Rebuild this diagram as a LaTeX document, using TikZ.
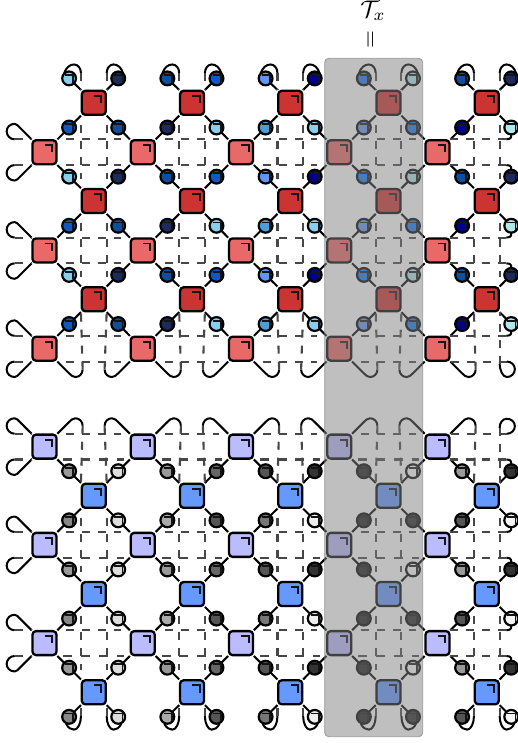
\documentclass[tikz,border=0pt]{standalone}
\usetikzlibrary{calc}
\pgfdeclarelayer{wires}
\pgfdeclarelayer{cover}
\pgfsetlayers{wires,main,cover}
\definecolor{dred}{HTML}{CC3333}
\definecolor{lred}{HTML}{E96868}
\definecolor{lblu}{HTML}{BBBBFF}
\definecolor{mblu}{HTML}{6699FF}
\definecolor{bA}{HTML}{87CEF0}
\definecolor{bB}{HTML}{1C2A5E}
\definecolor{bC}{HTML}{0F4F9E}
\definecolor{bD}{HTML}{1058C4}
\definecolor{bE}{HTML}{6495F0}
\definecolor{bF}{HTML}{00008B}
\definecolor{bG}{HTML}{1478F0}
\definecolor{bH}{HTML}{B0E8EC}
\definecolor{bI}{HTML}{4A9FD8}
\tikzset{
  x=1pt,y=-1pt,
  sqnode/.style={draw=black,line width=2.3pt,rounded corners=3.5pt,minimum size=24pt,inner sep=0pt,outer sep=.85pt},
  tensor/.style={draw=black,line width=2.2pt,circle,minimum size=13.8pt,inner sep=0pt,outer sep=0pt},
  wire/.style={draw=black,line width=2pt,line join=round},
  bond/.style={draw=black!72,line width=2.1pt,dash pattern=on 8pt off 8pt},
  innerbond/.style={bond,shorten <=9pt,shorten >=9pt},
  tightbond/.style={draw=black!72,line width=2.1pt,dash pattern=on 8.9pt off 8.9pt,shorten <=6pt,shorten >=6pt},
  tick/.style={draw=black!92,line width=1.9pt},
}
% square with its corner mark
\newcommand\sqr[4]{\node[sqnode,fill=#1] (#2) at (#3,#4) {};
  \draw[tick] ([shift={(0.3,-7)}]#2.center) -- ([shift={(7.6,-7)}]#2.center) -- ([shift={(7.6,0.3)}]#2.center);}
% circle with its corner mark
\newcommand\ten[4]{\node[tensor,fill=#1] (#2) at (#3,#4) {};
  \draw[tick] ([shift={(-3.8,-3.3)}]#2.center) -- ([shift={(4.3,-3.3)}]#2.center) -- ([shift={(4.3,4.4)}]#2.center);}
% corner -> loop -> free end beside the corner (left side)
\newcommand\lobe[4]{\draw[wire] (#1) -- ($(#1)+({#2*12},{#3*12})$)
  .. controls ($(#1)+({#2*13.5},{#3*13.5})$) and ($(#1)+({#2*15},{#3*15.5})$) .. ($(#1)+({#2*17},{#3*15.5})$)
  .. controls ($(#1)+({#2*21.5},{#3*15.5})$) and ($(#1)+({#2*25},{#3*12.2})$) .. ($(#1)+({#2*25},{#3*8})$)
  .. controls ($(#1)+({#2*25},{#3*3.8})$) and ($(#1)+({#2*21.5},0)$) .. ($(#1)+({#2*17},0)$) coordinate (#4);
  \draw[bond] (#4) -- (#1);}
% corner -> bend -> free end on the vertical bond
\newcommand\bendw[4]{\draw[wire] (#1) -- ($(#1)+({#2*12},{#3*12})$)
  .. controls ($(#1)+({#2*13.5},{#3*13.5})$) and ($(#1)+({#2*15.5},{#3*15.5})$) .. ($(#1)+({#2*18},{#3*15.5})$)
  .. controls ($(#1)+({#2*22},{#3*15.5})$) and ($(#1)+({#2*25.3},{#3*12.2})$) .. ($(#1)+({#2*25.3},{#3*8})$) coordinate (#4);}
\newcommand\leg[2]{\draw[wire] (#1) -- (#2);}
\begin{document}
\begin{tikzpicture}
\useasboundingbox (0,0) rectangle (518,743);
% ---------- squares
\foreach \i in {0,...,4}{\foreach \j in {0,1,2}{
  \sqr{dred}{td-\i-\j}{{93.8+98.25*\i}}{{102.8+98.25*\j}}
  \sqr{lred}{tl-\i-\j}{{44.5+98.25*\i}}{{152.2+98.25*\j}}
  \sqr{mblu}{bd-\i-\j}{{93.8+98.25*\i}}{{495.8+98.25*\j}}
  \sqr{lblu}{bl-\i-\j}{{44.5+98.25*\i}}{{446.6+98.25*\j}}
}}
% ---------- circles, upper network
\foreach \c/\ce/\co in {0/bA/bD,1/bB/bC,2/bC/bB,3/bD/bA,4/bE/bI,5/bF/bA,6/bG/bE,7/bH/bG,8/bC/bF,9/bB/bH}{
  \foreach \r in {0,...,5}{
    \ifodd\r\relax\def\cc{\co}\else\def\cc{\ce}\fi
    \ten{\cc}{tc-\c-\r}{{69.1+49.125*\c}}{{78.4+49.125*\r}}
}}
% ---------- circles, lower network
\foreach \c/\ce/\co in {0/153/136,1/221/221,2/153/170,3/102/85,4/85/119,5/51/238,6/32/32,7/255/42,8/153/85,9/51/245}{
  \foreach \r in {0,...,5}{
    \ifodd\r\relax\def\cc{\co}\else\def\cc{\ce}\fi
    \definecolor{gv}{RGB}{\cc,\cc,\cc}
    \ten{gv}{bc-\c-\r}{{69.1+49.125*\c}}{{471.2+49.125*\r}}
}}
\begin{pgfonlayer}{wires}
% ---------- legs on all dark squares
\foreach \i in {0,...,4}{\foreach \j in {0,1,2}{
  \pgfmathtruncatemacro\cl{2*\i}\pgfmathtruncatemacro\cr{2*\i+1}
  \pgfmathtruncatemacro\ru{2*\j}\pgfmathtruncatemacro\rd{2*\j+1}
  \leg{td-\i-\j.north west}{tc-\cl-\ru}\leg{td-\i-\j.north east}{tc-\cr-\ru}
  \leg{td-\i-\j.south west}{tc-\cl-\rd}\leg{td-\i-\j.south east}{tc-\cr-\rd}
  \leg{bd-\i-\j.north west}{bc-\cl-\ru}\leg{bd-\i-\j.north east}{bc-\cr-\ru}
  \leg{bd-\i-\j.south west}{bc-\cl-\rd}\leg{bd-\i-\j.south east}{bc-\cr-\rd}
}}
% ---------- legs on light squares, upper network
\foreach \i in {0,...,4}{\foreach \j in {0,1,2}{
  \pgfmathtruncatemacro\cl{2*\i-1}\pgfmathtruncatemacro\cr{2*\i}
  \pgfmathtruncatemacro\ru{2*\j+1}\pgfmathtruncatemacro\rd{2*\j+2}
  \leg{tl-\i-\j.north east}{tc-\cr-\ru}
  \ifnum\i>0 \leg{tl-\i-\j.north west}{tc-\cl-\ru}\else \lobe{tl-\i-\j.north west}{-1}{-1}{tfa-\j}\fi
  \ifnum\j<2 \leg{tl-\i-\j.south east}{tc-\cr-\rd}\else \bendw{tl-\i-\j.south east}{1}{1}{tbr-\i}\fi
  \ifnum\i>0
    \ifnum\j<2 \leg{tl-\i-\j.south west}{tc-\cl-\rd}\else \bendw{tl-\i-\j.south west}{-1}{1}{tbl-\i}\fi
  \else \lobe{tl-\i-\j.south west}{-1}{1}{tfb-\j}\fi
}}
% ---------- legs on light squares, lower network
\foreach \i in {0,...,4}{\foreach \j in {0,1,2}{
  \pgfmathtruncatemacro\cl{2*\i-1}\pgfmathtruncatemacro\cr{2*\i}
  \pgfmathtruncatemacro\ru{2*\j-1}\pgfmathtruncatemacro\rd{2*\j}
  \leg{bl-\i-\j.south east}{bc-\cr-\rd}
  \ifnum\i>0 \leg{bl-\i-\j.south west}{bc-\cl-\rd}\else \lobe{bl-\i-\j.south west}{-1}{1}{bfb-\j}\fi
  \ifnum\j>0 \leg{bl-\i-\j.north east}{bc-\cr-\ru}\else \bendw{bl-\i-\j.north east}{1}{-1}{bbr-\i}\fi
  \ifnum\i>0
    \ifnum\j>0 \leg{bl-\i-\j.north west}{bc-\cl-\ru}\else \bendw{bl-\i-\j.north west}{-1}{-1}{bbl-\i}\fi
  \else \lobe{bl-\i-\j.north west}{-1}{-1}{bfa-\j}\fi
}}
% ---------- horizontal bonds
\foreach \j in {0,1,2}{\foreach \i/\k in {0/1,1/2,2/3,3/4}{
  \draw[innerbond] (tl-\i-\j.north east) -- (tl-\k-\j.north west);
  \draw[innerbond] (tl-\i-\j.south east) -- (tl-\k-\j.south west);
  \draw[innerbond] (bl-\i-\j.north east) -- (bl-\k-\j.north west);
  \draw[tightbond] (bl-\i-\j.south east) -- (bl-\k-\j.south west);
}}
% ---------- vertical bonds
\foreach \p in {td,bd}{\foreach \i in {0,...,4}{\foreach \j/\k in {0/1,1/2}{
  \draw[innerbond] (\p-\i-\j.south west) -- (\p-\i-\k.north west);
  \draw[innerbond] (\p-\i-\j.south east) -- (\p-\i-\k.north east);
}}}
% ---------- upper network, top caps and lower ends
\foreach \i in {0,...,4}{
  \pgfmathtruncatemacro\cl{2*\i}\pgfmathtruncatemacro\cr{2*\i+1}
  \coordinate (tua-\i) at ($(td-\i-0.north west)+(0,-17)$);
  \coordinate (tub-\i) at ($(td-\i-0.north east)+(0,-17)$);
  \draw[wire] (tua-\i) .. controls ($(tua-\i)+(0,-4.5)$) and ($(tua-\i)+(-3,-8.5)$) .. ($(tua-\i)+(-6.8,-8.5)$)
     .. controls ($(tua-\i)+(-11,-8.5)$) and ($(tc-\cl-0)+(-3,-11)$) .. ($(tc-\cl-0)+(-5,-5)$);
  \draw[wire] (tub-\i) .. controls ($(tub-\i)+(0,-4.5)$) and ($(tub-\i)+(3,-8.5)$) .. ($(tub-\i)+(6.8,-8.5)$)
     .. controls ($(tub-\i)+(11,-8.5)$) and ($(tc-\cr-0)+(3,-11)$) .. ($(tc-\cr-0)+(5,-5)$);
  \draw[bond] (tua-\i) -- (td-\i-0.north west);
  \draw[bond] (tub-\i) -- (td-\i-0.north east);
  \draw[bond] (tbr-\i) -- (td-\i-2.south west);
}
\foreach \i/\k in {1/0,2/1,3/2,4/3}{\draw[bond] (tbl-\i) -- (td-\k-2.south east);}
% lower network, top ends and bottom caps
\foreach \i in {0,...,4}{
  \pgfmathtruncatemacro\cl{2*\i}\pgfmathtruncatemacro\cr{2*\i+1}
  \coordinate (bua-\i) at ($(bd-\i-2.south west)+(0,11)$);
  \coordinate (bub-\i) at ($(bd-\i-2.south east)+(0,11)$);
  \draw[wire] (bua-\i) .. controls ($(bua-\i)+(0,7)$) and ($(bua-\i)+(-3,13.5)$) .. ($(bua-\i)+(-6.8,13.5)$)
     .. controls ($(bua-\i)+(-10,13.5)$) and ($(bc-\cl-5)+(-1,11)$) .. ($(bc-\cl-5)+(-3,7)$);
  \draw[wire] (bub-\i) .. controls ($(bub-\i)+(0,7)$) and ($(bub-\i)+(3,13.5)$) .. ($(bub-\i)+(6.8,13.5)$)
     .. controls ($(bub-\i)+(10,13.5)$) and ($(bc-\cr-5)+(1,11)$) .. ($(bc-\cr-5)+(3,7)$);
  \draw[bond] (bua-\i) -- (bd-\i-2.south west);
  \draw[bond] (bub-\i) -- (bd-\i-2.south east);
  \draw[bond] (bbr-\i) -- (bd-\i-0.north west);
}
\foreach \i/\k in {1/0,2/1,3/2,4/3}{\draw[bond] (bbl-\i) -- (bd-\k-0.north east);}
% right edge, upper network
\foreach \j/\ru/\rd in {0/1/2,1/3/4}{
  \coordinate (tea-\j) at ($(tl-4-\j.north east)+(56,0)$);
  \coordinate (teb-\j) at ($(tl-4-\j.south east)+(56,0)$);
  \draw[bond] (tea-\j) -- (tl-4-\j.north east);
  \draw[bond] (teb-\j) -- (tl-4-\j.south east);
  \draw[wire] (tea-\j) .. controls ($(tea-\j)+(6,0)$) and ($(tc-9-\ru)+(0,8)$) .. (tc-9-\ru);
  \draw[wire] (teb-\j) .. controls ($(teb-\j)+(6,0)$) and ($(tc-9-\rd)+(0,-8)$) .. (tc-9-\rd);
}
\coordinate (tea-2) at ($(tl-4-2.north east)+(56,0)$);
\draw[bond] (tea-2) -- (tl-4-2.north east);
\draw[wire] (tea-2) .. controls ($(tea-2)+(6,0)$) and ($(tc-9-5)+(0,8)$) .. (tc-9-5);
\coordinate (teH) at ($(tl-4-2.south east)+(56.5,0)$);
\coordinate (teV) at ($(td-4-2.south east)+(0,52)$);
\draw[bond] (teH) -- (tl-4-2.south east);
\draw[bond] (teV) -- (td-4-2.south east);
\draw[wire] (teH) .. controls ($(teH)+(4.5,0)$) and ($(teH)+(8,3.5)$) .. ($(teH)+(8,7.5)$)
  .. controls ($(teH)+(8,12)$) and ($(teH)+(4.5,15.5)$) .. ($(teH)+(0,15.5)$)
  .. controls ($(teH)+(-4.5,15.5)$) and ($(teV)+(0,5)$) .. (teV);
% right edge, lower network
\foreach \j/\ru/\rd in {1/1/2,2/3/4}{
  \coordinate (bea-\j) at ($(bl-4-\j.north east)+(56,0)$);
  \coordinate (beb-\j) at ($(bl-4-\j.south east)+(56,0)$);
  \draw[bond] (bea-\j) -- (bl-4-\j.north east);
  \draw[bond] (beb-\j) -- (bl-4-\j.south east);
  \draw[wire] (bea-\j) .. controls ($(bea-\j)+(6,0)$) and ($(bc-9-\ru)+(0,8)$) .. (bc-9-\ru);
  \draw[wire] (beb-\j) .. controls ($(beb-\j)+(6,0)$) and ($(bc-9-\rd)+(0,-8)$) .. (bc-9-\rd);
}
\coordinate (beb-0) at ($(bl-4-0.south east)+(56,0)$);
\draw[bond] (beb-0) -- (bl-4-0.south east);
\draw[wire] (beb-0) .. controls ($(beb-0)+(6,0)$) and ($(bc-9-0)+(0,-8)$) .. (bc-9-0);
\coordinate (beH) at ($(bl-4-0.north east)+(56.5,0)$);
\coordinate (beV) at ($(bd-4-0.north east)+(0,-55)$);
\draw[bond] (beH) -- (bl-4-0.north east);
\draw[bond] (beV) -- (bd-4-0.north east);
\draw[wire] (beH) .. controls ($(beH)+(4.5,0)$) and ($(beH)+(8,-3.5)$) .. ($(beH)+(8,-7.5)$)
  .. controls ($(beH)+(8,-12)$) and ($(beH)+(4.5,-15)$) .. ($(beH)+(0,-15)$)
  .. controls ($(beH)+(-4.5,-15)$) and ($(beV)+(0,-5)$) .. (beV);
\end{pgfonlayer}
% ---------- shaded column and its label
\begin{pgfonlayer}{cover}
\fill[gray,opacity=.5,rounded corners=4pt] (324.7,58.3) rectangle (422.7,736.7);
\draw[gray,opacity=.75,line width=.8pt,rounded corners=4pt] (324.7,58.3) rectangle (422.7,736.7);
\end{pgfonlayer}
\node[inner sep=0pt] (tlabel) at (373,11) {\scalebox{2.4}{$\mathcal{T}_x$}};
\node[inner sep=0pt,rotate=90] (teq) at (372,40) {\scalebox{2.3}{$=$}};
\end{tikzpicture}
\end{document}
